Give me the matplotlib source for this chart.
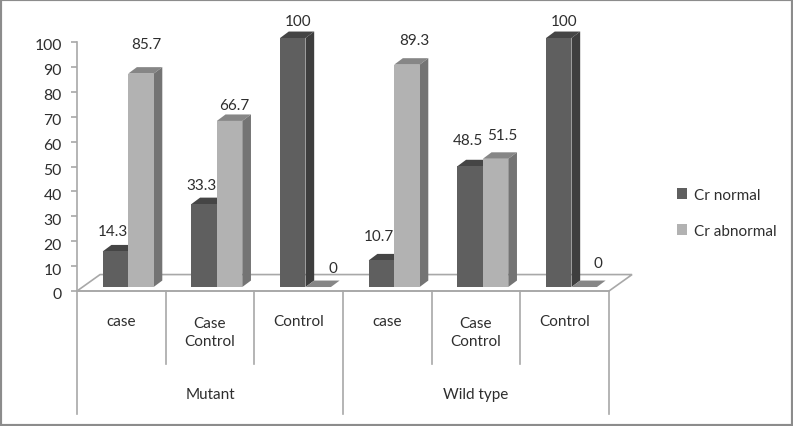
import matplotlib
matplotlib.use("Agg")

import matplotlib.pyplot as plt
from matplotlib.patches import Patch, Polygon, Rectangle
from matplotlib.transforms import ScaledTranslation

plt.rcParams["font.family"] = ["Lato", "DejaVu Sans"]

categories = ["case", "Case\nControl", "Control", "case", "Case\nControl", "Control"]
groups = ["Mutant", "Wild type"]
series_names = ["Cr normal", "Cr abnormal"]
cr_normal = [14.3, 33.3, 100, 10.7, 48.5, 100]
cr_abnormal = [85.7, 66.7, 0, 89.3, 51.5, 0]
y_ticks = list(range(0, 101, 10))

W, H = 793, 427
AX_L, AX_R, AX_B, AX_T = 77, 609, 292, 43

# 3d look of the excel chart, in data units (1 category = 88.67 px, 1 % = 2.49 px)
BAR_W = 0.287
BAR_GAP = 0.29
BASE = 1.6
DX = 0.098
DY = 2.6
FLOOR_DX = 0.26
FLOOR_DY = 6.6

DARK = ("#5f5f5f", "#454545", "#3e3e3e")
LIGHT = ("#b2b2b2", "#868686", "#747474")
LINE = "#a8a8a8"
TEXT = "#2e2e2e"
FS = 11

# label placement relative to the bar tops, px
gap_normal = [20, 19, 17, 24, 26, 17]
gap_abnormal = [30, 16, 19, 25, 24, 24]
shift_normal = [0, 0, 8, 0, 0, 8]
shift_abnormal = [2, 1, 11, 4, 3, 10]

fig = plt.figure(figsize=(W / 100, H / 100), dpi=100)
fig.add_artist(Rectangle((0, 0), 1, 1, transform=fig.transFigure, fill=False,
                         ec="#8c8c8c", lw=3))
ax = fig.add_axes([AX_L / W, 1 - AX_B / H, (AX_R - AX_L) / W, (AX_B - AX_T) / H])
ax.set_xlim(0, 6)
ax.set_ylim(0, 100)
ax.patch.set_alpha(0)
for s in ["top", "right", "bottom"]:
    ax.spines[s].set_visible(False)
ax.spines["left"].set_color(LINE)
ax.spines["left"].set_linewidth(1.2)
ax.set_xticks([])
ax.set_yticks(y_ticks)
ax.tick_params(axis="y", length=4, width=1.2, color=LINE, labelcolor=TEXT,
               labelsize=FS + 0.3, pad=7)
# tick labels sit a little lower than the ticks
down = ScaledTranslation(0, -2 / 100, fig.dpi_scale_trans)
for t in ax.get_yticklabels():
    t.set_transform(t.get_transform() + down)


def px_y(p):
    # pixel row -> value on the y axis
    return (AX_B - p) / 2.49


# floor
floor = [(0, 0), (6, 0), (6 + FLOOR_DX, FLOOR_DY), (FLOOR_DX, FLOOR_DY)]
ax.add_patch(Polygon(floor, closed=True, fc="white", ec=LINE, lw=1.2,
                     clip_on=False, zorder=1))


def bar3d(x, val, cols, zorder):
    ax.bar(x, val, BAR_W, bottom=BASE, align="edge", color=cols[0], zorder=zorder + 0.2,
           clip_on=False)
    top = BASE + val
    ax.add_patch(Polygon([(x, top), (x + BAR_W, top), (x + BAR_W + DX, top + DY), (x + DX, top + DY)],
                         closed=True, fc=cols[1], ec="none", clip_on=False, zorder=zorder))
    ax.add_patch(Polygon([(x + BAR_W, BASE), (x + BAR_W + DX, BASE + DY),
                          (x + BAR_W + DX, top + DY), (x + BAR_W, top)],
                         closed=True, fc=cols[2], ec="none", clip_on=False, zorder=zorder))


for i in range(len(categories)):
    x0 = i + BAR_GAP
    x1 = x0 + BAR_W
    bar3d(x0, cr_normal[i], DARK, 3)
    bar3d(x1, cr_abnormal[i], LIGHT, 4)

    ytext = BASE + cr_normal[i] + gap_normal[i] / 2.49
    ax.text(x0 + BAR_W * 0.4 + shift_normal[i] / 88.67, ytext, str(cr_normal[i]),
            ha="center", va="center", color=TEXT, fontsize=FS, zorder=6, clip_on=False)
    ytext = BASE + cr_abnormal[i] + gap_abnormal[i] / 2.49
    ax.text(x1 + BAR_W * 0.65 + shift_abnormal[i] / 88.67, ytext, str(cr_abnormal[i]),
            ha="center", va="center", color=TEXT, fontsize=FS, zorder=6, clip_on=False)

    row = 333 if "\n" in categories[i] else 322
    ax.text(i + 0.5, px_y(row), categories[i], ha="center", va="center", color=TEXT,
            fontsize=FS, linespacing=1.45, clip_on=False)

# axis line and category separators
ax.plot([0, 6], [0, 0], color=LINE, lw=1.2, clip_on=False, zorder=2)
for i in range(7):
    bottom = 415 if i % 3 == 0 else 365
    ax.plot([i, i], [0, px_y(bottom)], color=LINE, lw=1.2, clip_on=False, zorder=2)

for g, name in enumerate(groups):
    ax.text(g * 3 + 1.5, px_y(395), name, ha="center", va="center", color=TEXT,
            fontsize=FS, clip_on=False)

handles = [Patch(fc=DARK[0], label=series_names[0]), Patch(fc=LIGHT[0], label=series_names[1])]
leg = fig.legend(handles=handles, loc="center left", bbox_to_anchor=(663 / W, 1 - 214 / H),
                 frameon=False, fontsize=FS, handlelength=0.7, handleheight=0.7,
                 handletextpad=0.4, labelspacing=1.45, labelcolor=TEXT)

fig.savefig("out.png", dpi=100)
